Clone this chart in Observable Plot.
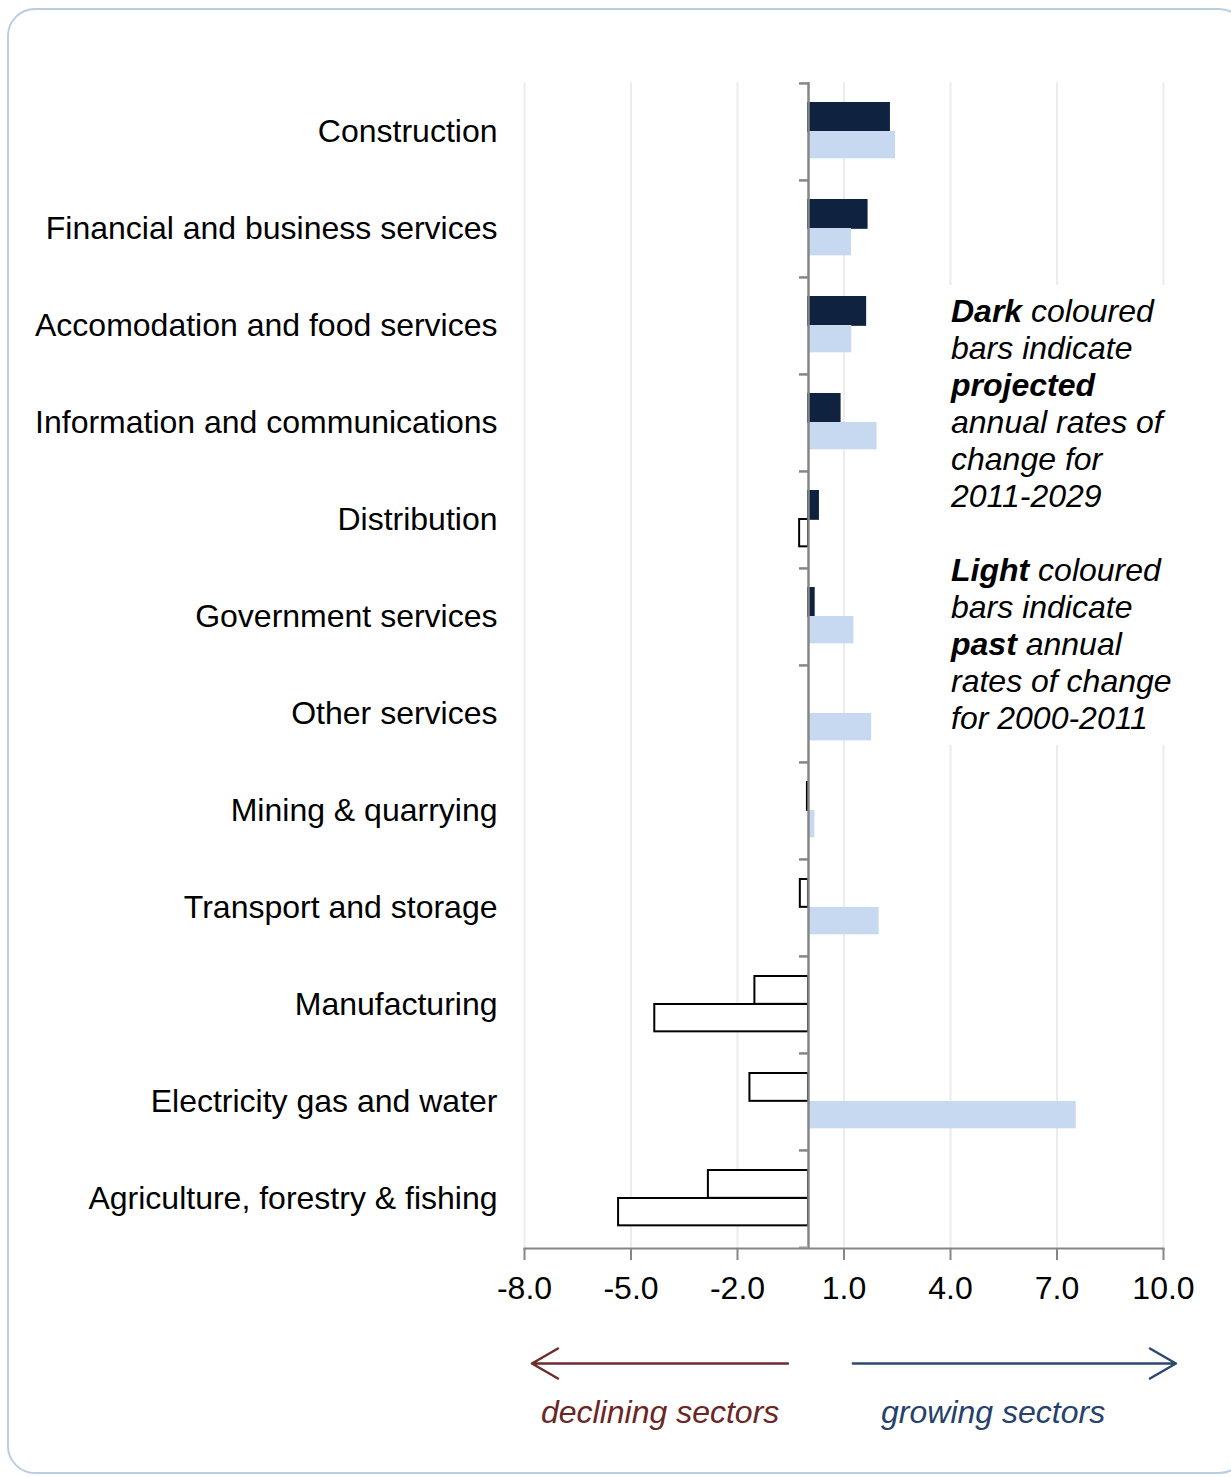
<!DOCTYPE html>
<html>
<head>
<meta charset="utf-8">
<script src="https://cdn.jsdelivr.net/npm/d3@7"></script>
<script src="https://cdn.jsdelivr.net/npm/@observablehq/plot@0.6"></script>
<style>
  html, body { margin: 0; padding: 0; background: #fff; width: 1231px; height: 1477px; overflow: hidden; }
  body { position: relative; font-family: "Liberation Sans", Arial, sans-serif; }
  #frame { position: absolute; left: 7px; top: 8px; width: 1240px; height: 1466px; box-sizing: border-box;
           border: 2px solid #b9cde5; border-radius: 28px; }
  #chart { position: absolute; left: 0; top: 0; }
  #arrows { position: absolute; left: 0; top: 1335px; }
  #note { position: absolute; left: 941px; top: 285px; padding: 8px 12px 8px 10px; background: #fff;
          font-style: italic; font-size: 32px; line-height: 37px; color: #000; white-space: nowrap; }
  #note b { font-weight: bold; }
</style>
</head>
<body>
<div id="frame"></div>
<div id="chart"></div>
<div id="note"><b>Dark</b> coloured<br>bars indicate<br><b>projected</b><br>annual rates of<br>change for<br>2011-2029<br><br><b>Light</b> coloured<br>bars indicate<br><b>past</b> annual<br>rates of change<br>for 2000-2011</div>
<div id="arrows"></div>
<script>
// ---- data ----
const categories = [
  "Construction",
  "Financial and business services",
  "Accomodation and food services",
  "Information and communications",
  "Distribution",
  "Government services",
  "Other services",
  "Mining & quarrying",
  "Transport and storage",
  "Manufacturing",
  "Electricity gas and water",
  "Agriculture, forestry & fishing"
];
const projected = [2.28, 1.65, 1.61, 0.89, 0.28, 0.16, 0, -0.03, -0.23, -1.51, -1.65, -2.82]; // 2011-2029
const past      = [2.45, 1.21, 1.22, 1.93, -0.25, 1.28, 1.78, 0.18, 1.99, -4.33, 7.54, -5.35]; // 2000-2011
const xTicks = [-8, -5, -2, 1, 4, 7, 10];
const arrowsData = [
  {from: -0.58, to: -7.79, color: "#6e2d2d"},
  {from: 1.25, to: 10.35, color: "#2c4a6e"}
];
const arrowLabels = [
  {x: -4.18, text: "declining sectors", color: "#6b2626"},
  {x: 5.2, text: "growing sectors", color: "#26416b"}
];

// ---- build ----
const projRows = categories.map((c, i) => ({cat: c, value: projected[i]}));
const pastRows = categories.map((c, i) => ({cat: c, value: past[i]}));
const DARK = "#0f2340", LIGHT = "#c6d9f0", AXIS = "#868686", GRID = "#ececec";
const W = 1231, ML = 524, MR = 68, MT = 82, PLOT_BOTTOM = 1248, H = 1310;
const bw = (PLOT_BOTTOM - MT) / categories.length;
const zeroDx = (0 - (-8)) * (W - ML - MR) / 18;
const font = '"Liberation Sans", Arial, sans-serif';

const chart = Plot.plot({
  width: W, height: H,
  marginLeft: ML, marginRight: MR, marginTop: MT, marginBottom: H - PLOT_BOTTOM,
  style: {fontFamily: font, fontSize: "32px", color: "#000", background: "transparent", overflow: "visible"},
  x: {domain: [-8, 10], label: null},
  y: {domain: categories, padding: 0, label: null},
  color: {type: "identity"},
  marks: [
    Plot.gridX(xTicks, {stroke: GRID, strokeOpacity: 1, strokeWidth: 2}),
    Plot.barX(projRows, {
      x: "value", y: "cat",
      insetTop: 20, insetBottom: bw - 48,
      fill: d => d.value >= 0 ? DARK : "#fff",
      stroke: d => d.value >= 0 ? DARK : "#000",
      strokeWidth: 2
    }),
    Plot.barX(pastRows, {
      x: "value", y: "cat",
      insetTop: 48, insetBottom: bw - 75.5,
      fill: d => d.value >= 0 ? LIGHT : "#fff",
      stroke: d => d.value >= 0 ? "none" : "#000",
      strokeWidth: 2
    }),
    Plot.ruleX([0], {stroke: AXIS, strokeWidth: 2.5}),
    Plot.axisY({ticks: categories, tickSize: 9, dx: zeroDx, dy: -bw / 2,
                stroke: AXIS, strokeWidth: 2.5, tickFormat: () => "", label: null}),
    Plot.axisY({ticks: categories.slice(-1), tickSize: 9, dx: zeroDx, dy: bw / 2,
                stroke: "#b0b0b0", strokeWidth: 2.5, tickFormat: () => "", label: null}),
    Plot.axisY({tickSize: 0, tickPadding: 27, fontSize: 32, fill: "#000", label: null}),
    Plot.axisX({ticks: xTicks, tickSize: 12, tickPadding: 16, stroke: AXIS, strokeWidth: 2,
                tickFormat: d => d.toFixed(1), fontSize: 32, fill: "#000", label: null}),
    Plot.frame({anchor: "bottom", stroke: AXIS, strokeWidth: 2})
  ]
});
document.getElementById("chart").appendChild(chart);

const arrows = Plot.plot({
  width: W, height: 110,
  marginLeft: ML, marginRight: MR, marginTop: 0, marginBottom: 0,
  style: {fontFamily: font, fontSize: "32px", background: "transparent", overflow: "visible"},
  x: {domain: [-8, 10], axis: null},
  y: {type: "point", domain: ["arrow", "label"], axis: null},
  marks: [
    Plot.arrow(arrowsData, {x1: "from", x2: "to", y1: () => "arrow", y2: () => "arrow",
                            stroke: d => d.color, strokeWidth: 2.5, headLength: 18, headAngle: 60}),
    Plot.text(arrowLabels, {x: "x", y: () => "label", text: "text", fill: d => d.color,
                            fontStyle: "italic", fontSize: 32, dy: -6})
  ]
});
document.getElementById("arrows").appendChild(arrows);
</script>
</body>
</html>
